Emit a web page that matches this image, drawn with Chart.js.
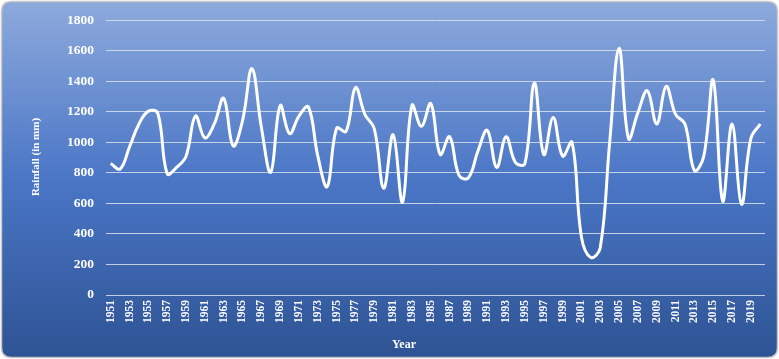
<!DOCTYPE html>
<html>
<head>
<meta charset="utf-8">
<script src="https://cdn.jsdelivr.net/npm/chart.js@4"></script>
<style>
  html, body { margin: 0; padding: 0; background: #ffffff; }
  #wrap { width: 779px; height: 359px; position: relative; }
</style>
</head>
<body>
<div id="wrap"><canvas id="c" width="779" height="359"></canvas></div>
<script>
const years = [];
for (let y = 1951; y <= 2020; y++) years.push(String(y));

const rainfall = [
  861, 825, 970, 1120, 1204, 1190, 794, 836, 909, 1172,
  1029, 1120, 1288, 977, 1141, 1482, 1100, 804, 1240, 1057,
  1172, 1231, 909, 709, 1092, 1071, 1358, 1183, 1088, 699,
  1050, 608, 1242, 1105, 1253, 920, 1036, 783, 768, 941,
  1078, 836, 1036, 867, 861, 1387, 920, 1162, 909, 1000,
  380, 246, 309, 1000, 1615, 1025, 1194, 1337, 1120, 1366,
  1183, 1120, 815, 909, 1408, 615, 1120, 594, 1025, 1120
];

const yTicks = [0, 200, 400, 600, 800, 1000, 1200, 1400, 1600, 1800];
const xTitle = 'Year';
const yTitle = 'Rainfall (in mm)';

const serif = "'Liberation Serif', 'Times New Roman', serif";

const bgPlugin = {
  id: 'bg',
  beforeDraw(chart) {
    const ctx = chart.ctx;
    const w = chart.width, h = chart.height;
    ctx.save();
    ctx.fillStyle = '#ffffff';
    ctx.fillRect(0, 0, w, h);
    const g = ctx.createLinearGradient(0, 0, 0, h);
    g.addColorStop(0, '#8eaadc');
    g.addColorStop(0.5, '#4a76c6');
    g.addColorStop(1, '#2e5393');
    const r = 10, x = 1.5, y = 1.5, rw = w - 3, rh = h - 3;
    ctx.beginPath();
    ctx.moveTo(x + r, y);
    ctx.lineTo(x + rw - r, y);
    ctx.quadraticCurveTo(x + rw, y, x + rw, y + r);
    ctx.lineTo(x + rw, y + rh - r);
    ctx.quadraticCurveTo(x + rw, y + rh, x + rw - r, y + rh);
    ctx.lineTo(x + r, y + rh);
    ctx.quadraticCurveTo(x, y + rh, x, y + rh - r);
    ctx.lineTo(x, y + r);
    ctx.quadraticCurveTo(x, y, x + r, y);
    ctx.closePath();
    ctx.fillStyle = g;
    ctx.fill();
    ctx.lineWidth = 1.5;
    ctx.strokeStyle = '#c8c8c8';
    ctx.stroke();
    ctx.restore();
  },
  afterDraw(chart) {
    const ctx = chart.ctx;
    ctx.save();
    ctx.fillStyle = '#ffffff';
    ctx.textAlign = 'center';
    ctx.textBaseline = 'middle';
    ctx.font = 'bold 12px ' + serif;
    ctx.fillText(xTitle, 404, 345);
    ctx.translate(36, 157);
    ctx.rotate(-Math.PI / 2);
    ctx.font = 'bold 11px ' + serif;
    ctx.fillText(yTitle, 0, 0);
    ctx.restore();
  }
};

const PAD = { left: 25, right: 14, top: 11, bottom: 3 };

new Chart(document.getElementById('c'), {
  type: 'line',
  data: {
    labels: years,
    datasets: [{
      data: rainfall,
      borderColor: '#ffffff',
      borderWidth: 3,
      pointRadius: 0,
      tension: 0.4,
      fill: false
    }]
  },
  options: {
    responsive: false,
    animation: false,
    devicePixelRatio: 1,
    layout: { padding: PAD },
    plugins: { legend: { display: false }, tooltip: { enabled: false } },
    scales: {
      x: {
        type: 'category',
        offset: true,
        grid: { display: false, drawTicks: false },
        border: { display: false },
        ticks: {
          autoSkip: false,
          maxRotation: 90,
          minRotation: 90,
          padding: 5,
          color: '#ffffff',
          font: { family: serif, size: 11.5, weight: 'bold' },
          callback: function(v, i) { return i % 2 === 0 ? years[i] : null; }
        },
        afterFit(s) { s.height = 359 - 295 - PAD.bottom; }
      },
      y: {
        min: 0,
        max: 1800,
        afterBuildTicks(s) { s.ticks = yTicks.map(v => ({ value: v })); },
        grid: { color: 'rgba(220,225,235,0.85)', lineWidth: 1, drawTicks: false },
        border: { display: false },
        ticks: {
          padding: 12,
          color: '#ffffff',
          font: { family: serif, size: 13.5, weight: 'bold' },
          callback: function(v) { return String(v); }
        },
        afterFit(s) { s.width = 106 - PAD.left; }
      }
    }
  },
  plugins: [bgPlugin]
});
</script>
</body>
</html>
